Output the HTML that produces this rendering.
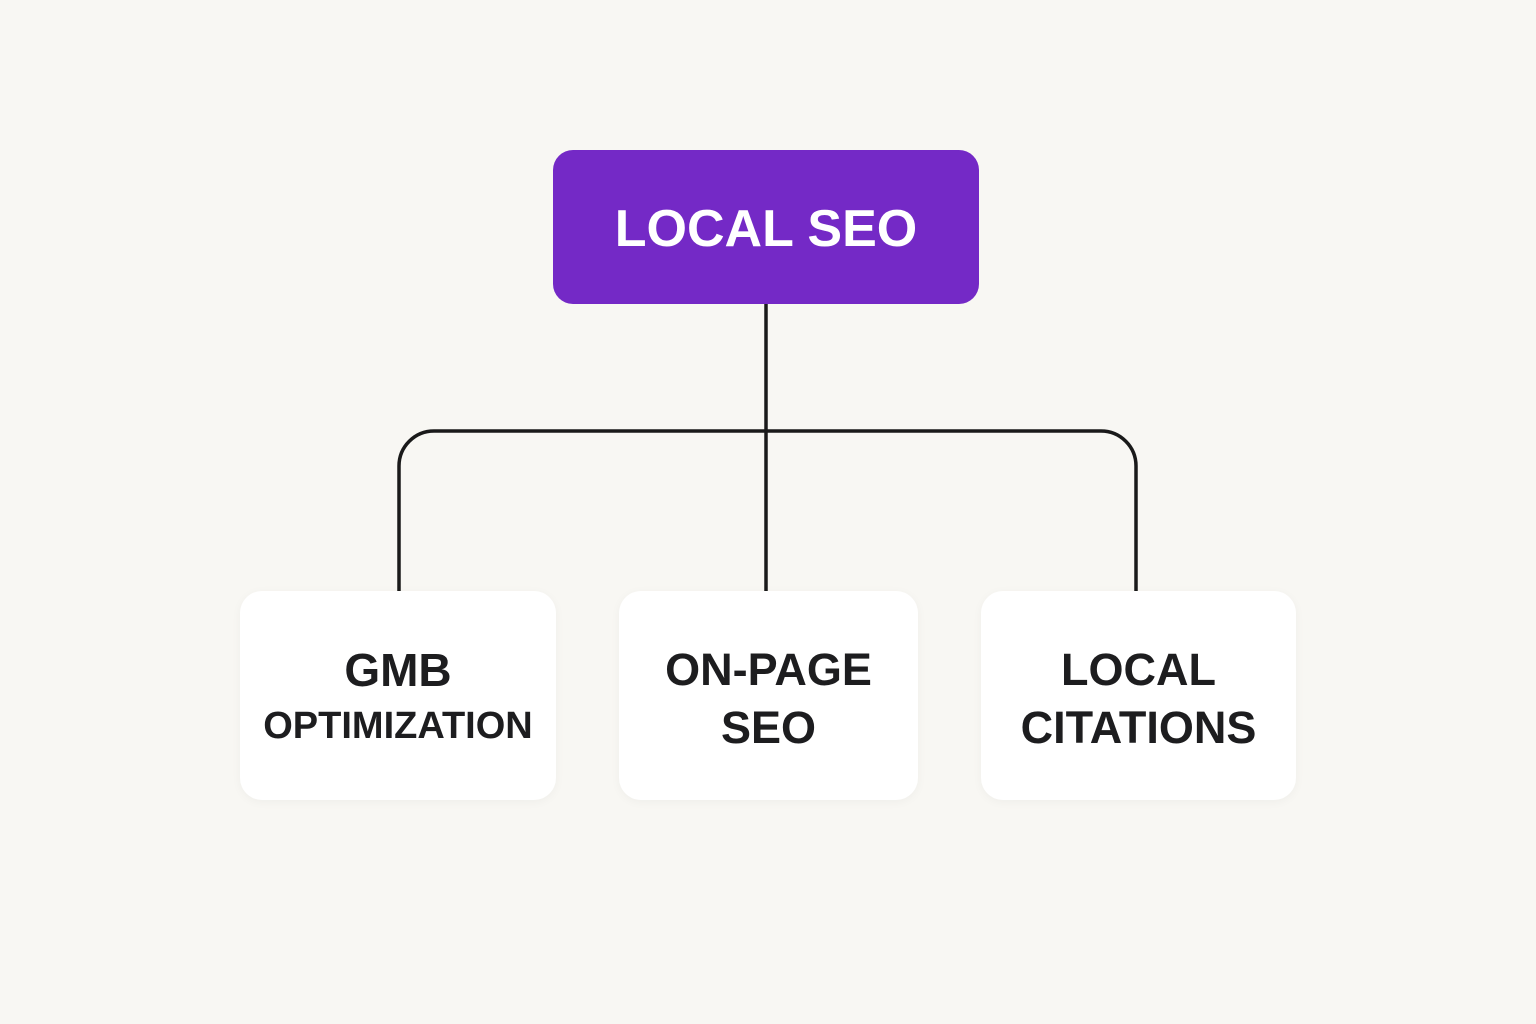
<!DOCTYPE html>
<html><head><style>
body{margin:0;width:1536px;height:1024px;background:#f8f7f3;position:relative;overflow:hidden;font-family:"Liberation Sans",sans-serif;font-weight:bold}
.top{position:absolute;left:553px;top:150px;width:426px;height:154px;background:#7429c6;border-radius:20px;color:#fff;font-size:52px;display:flex;align-items:center;justify-content:center;letter-spacing:0px;padding-top:4px;box-sizing:border-box}
.b{position:absolute;top:591px;height:209px;background:#fff;border-radius:22px;box-shadow:0 2px 10px rgba(0,0,0,0.04);color:#1d1d1f;text-align:center}
.b div{position:absolute;left:0;right:0}
</style></head><body>
<svg width="1536" height="1024" style="position:absolute;left:0;top:0">
<g fill="none" stroke="#1a1a1a" stroke-width="3.5">
<line x1="766" y1="304" x2="766" y2="591"/>
<path d="M399 591 V466 A35 35 0 0 1 434 431 H1101 A35 35 0 0 1 1136 466 V591"/>
</g></svg>
<div class="top">LOCAL SEO</div>
<div class="b" style="left:240px;width:316px"><div style="top:52px;font-size:46px">GMB</div><div style="top:114px;font-size:38px">OPTIMIZATION</div></div>
<div class="b" style="left:619px;width:299px"><div style="top:53px;font-size:45px">ON-PAGE</div><div style="top:111px;font-size:45px">SEO</div></div>
<div class="b" style="left:981px;width:315px"><div style="top:53px;font-size:45px">LOCAL</div><div style="top:111px;font-size:45px">CITATIONS</div></div>
</body></html>
